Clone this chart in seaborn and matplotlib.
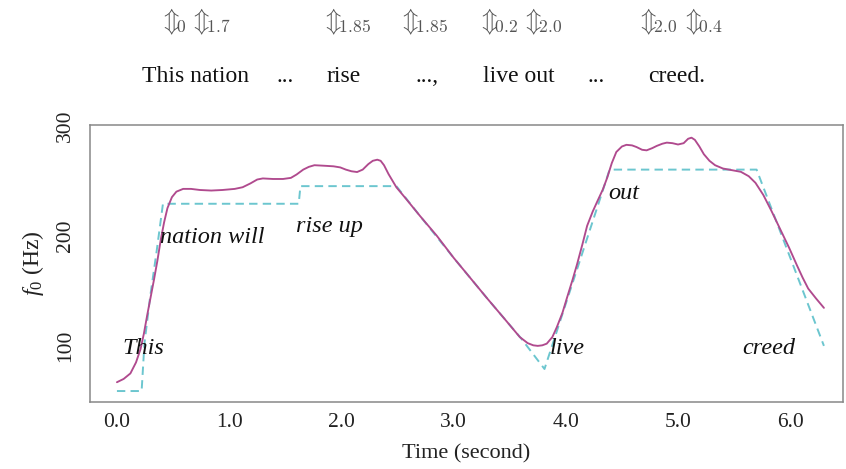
import matplotlib
matplotlib.use("Agg")
import matplotlib.pyplot as plt
import seaborn as sns
import pandas as pd

# Measured f0 contour (seconds, Hz)
f0_time = [0.00, 0.06, 0.12, 0.17, 0.21, 0.24, 0.27, 0.30, 0.33, 0.36, 0.39, 0.42,
           0.45, 0.49, 0.53, 0.59, 0.66, 0.74, 0.84, 0.94, 1.05, 1.12, 1.19, 1.25,
           1.30, 1.39, 1.48, 1.55, 1.60, 1.66, 1.71, 1.76, 1.85, 1.93, 1.99, 2.04,
           2.09, 2.14, 2.19, 2.24, 2.28, 2.32, 2.35, 2.38, 2.42, 2.49, 2.58, 2.70,
           2.85, 3.00, 3.15, 3.30, 3.45, 3.59, 3.66, 3.71, 3.75, 3.79, 3.83, 3.88,
           3.92, 3.97, 4.01, 4.06, 4.10, 4.15, 4.19, 4.24, 4.28, 4.33, 4.37, 4.41,
           4.45, 4.50, 4.54, 4.59, 4.63, 4.68, 4.72, 4.77, 4.81, 4.86, 4.90, 4.95,
           5.00, 5.05, 5.09, 5.12, 5.15, 5.19, 5.23, 5.28, 5.33, 5.40, 5.48, 5.56,
           5.63, 5.69, 5.76, 5.83, 5.91, 5.99, 6.06, 6.11, 6.16, 6.23, 6.30]
f0_hz = [67, 70, 75, 85, 97, 111, 128, 144, 160, 177, 196, 212,
         225, 235, 240, 242.5, 242.5, 241.5, 241, 241.5, 242.5, 244, 247.5, 251,
         252, 251.5, 251.5, 252.5, 255.5, 260, 262.5, 264, 263.5, 263, 262, 260,
         258.5, 257.8, 260, 265, 268, 269, 268, 264, 256, 244, 233, 218,
         200, 180, 161.5, 143, 125, 108, 102.5, 100.5, 100, 100.5, 102, 108,
         117, 130, 143.5, 160, 174, 193, 209, 222, 231, 242, 253, 266,
         276, 281, 282.5, 282, 280.5, 278, 277.5, 279.5, 281.5, 283.5, 284.5, 284,
         282.8, 284, 288, 289, 287, 281, 274, 268, 264, 261, 259.5, 258,
         254, 248, 237, 223, 206, 189, 173, 162, 152, 143, 134.5]

# Pitch targets (seconds, Hz)
target_time = [0.00, 0.22, 0.245, 0.294, 0.354, 0.41, 1.62, 1.635, 2.49, 2.70,
               3.00, 3.30, 3.60, 3.81, 4.39, 5.70, 6.30]
target_hz = [59, 59, 102, 143, 186, 229, 229, 245, 245, 218,
             180, 143, 107, 79, 260, 260, 100]

# Word labels inside the plot: (text, time, Hz at baseline)
word_text = ["This", "nation will", "rise up", "live", "out", "creed"]
word_time = [0.05, 0.383, 1.595, 3.853, 4.38, 5.57]
word_hz = [92.4, 193.1, 203.6, 93.0, 233.5, 93.0]

# Header: sentence fragments and their range annotations
frag_text = ["This nation", "...", "rise", "...,", "live out", "...", "creed."]
frag_px = [195, 285, 344, 427, 519, 596, 677]
range_vals = ["0", "1.7", "1.85", "1.85", "0.2", "2.0", "2.0", "0.4"]
range_px = [159, 189, 321, 398, 477, 521, 636, 681]

x_ticks = [0.0, 1.0, 2.0, 3.0, 4.0, 5.0, 6.0]
y_ticks = [100, 150, 200, 250, 300]
y_ticklabels = ["100", "", "200", "", "300"]

sns.set_style("white")
plt.rcParams["font.family"] = ["Liberation Serif", "DejaVu Sans"]
plt.rcParams["mathtext.fontset"] = "custom"
plt.rcParams["mathtext.rm"] = "Liberation Serif"
plt.rcParams["mathtext.it"] = "Liberation Serif:italic"

W, H = 846, 469
fig = plt.figure(figsize=(W / 100, H / 100), dpi=100)
ax = fig.add_axes([90 / W, 1 - 401.5 / H, 753 / W, 276.5 / H])

contour = pd.DataFrame({"time": f0_time, "f0": f0_hz})
targets = pd.DataFrame({"time": target_time, "f0": target_hz})

sns.lineplot(data=targets, x="time", y="f0", ax=ax, sort=False, estimator=None,
             color="#6cc6cf", linewidth=1.4, linestyle=(0, (4.3, 2.7)))
sns.lineplot(data=contour, x="time", y="f0", ax=ax, sort=False, estimator=None,
             color="#b04a8e", linewidth=1.35)

for txt, t, hz in zip(word_text, word_time, word_hz):
    ax.text(t, hz, txt, fontsize=17.5, style="italic", ha="left", va="baseline",
            color="#111111", family="Liberation Serif")

ax.set_xlim(-0.24, 6.47)
ax.set_ylim(49.5, 300.5)
ax.set_xticks(x_ticks)
ax.set_xticklabels([f"{v:.1f}" for v in x_ticks])
ax.set_yticks(y_ticks)
ax.set_yticklabels(y_ticklabels, rotation=90, va="center")

ax.tick_params(axis="both", direction="out", length=7, width=1.0, color="#777777",
               labelsize=15.5, labelcolor="#222222")
ax.tick_params(axis="x", pad=1)
ax.tick_params(axis="y", pad=4)
for sp in ax.spines.values():
    sp.set_color("#888888")
    sp.set_linewidth(1.1)
    sp.set_visible(True)

ax.set_xlabel("Time (second)", fontsize=16, color="#222222", labelpad=9)
ax.set_ylabel(r"$\mathit{f_0}$ (Hz)", fontsize=17, color="#222222", labelpad=7)

# Header rows above the plot
for txt, px in zip(frag_text, frag_px):
    fig.text(px / W, 1 - 82 / H, txt, fontsize=17, ha="center", va="baseline",
             color="#111111", family="Liberation Serif")

for val, px in zip(range_vals, range_px):
    fig.text(px / W, 1 - 21.5 / H, r"$\Updownarrow\!\!{}_{\mathrm{%s}}$" % val,
             fontsize=18, ha="left", va="center", color="#555555",
             math_fontfamily="cm")

fig.savefig("out.png", dpi=100)
